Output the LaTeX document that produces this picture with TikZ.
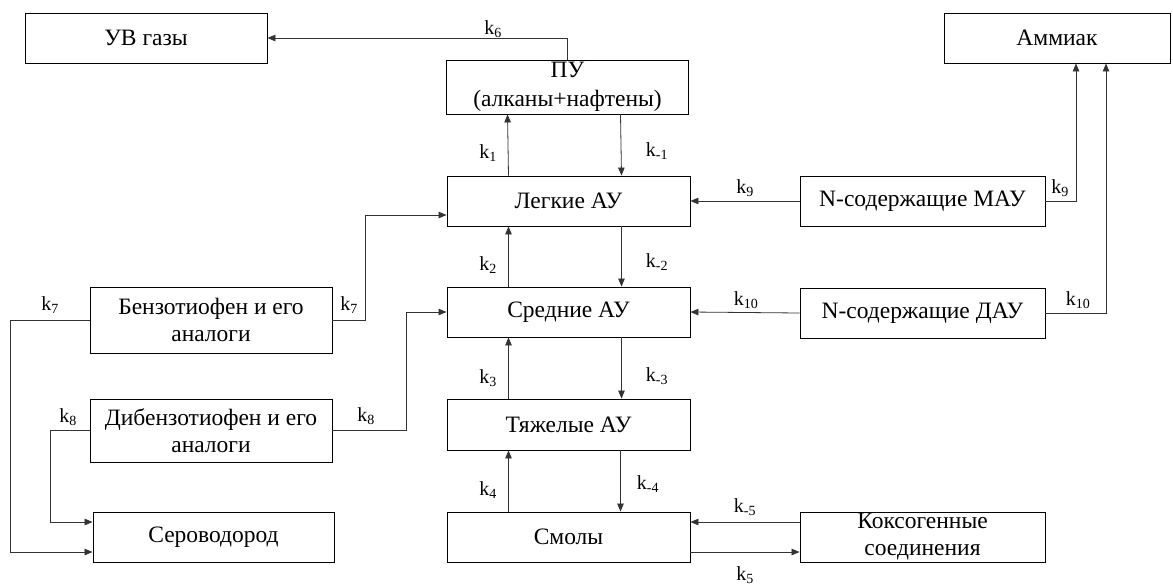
\documentclass[tikz,border=0pt]{standalone}
\usepackage{fontspec}
\setmainfont{Liberation Serif}
\newfontfamily\tnr{Liberation Serif}
\usetikzlibrary{arrows.meta}
\begin{document}
\begin{tikzpicture}[x=1pt,y=-1pt,
  box/.style={draw=black,line width=0.9pt,inner sep=0pt,align=center,
    font=\tnr\fontsize{23.5}{27}\selectfont},
  arr/.style={draw=black!80,line width=0.8pt,-{Triangle[length=8pt,width=6.5pt]}},
  lbl/.style={inner sep=0pt,font=\tnr\fontsize{20}{22}\selectfont}]
\useasboundingbox (0,0) rectangle (1173,587);
% boxes
\node[box,minimum width=242pt,minimum height=50pt] (uv) at (146,38) {УВ газы};
\node[box,minimum width=242pt,minimum height=54pt,font=\tnr\fontsize{23.5}{29}\selectfont] (pu) at (567.5,87) {ПУ\\(алканы+нафтены)};
\node[box,minimum width=226pt,minimum height=50pt] (am) at (1057,38) {Аммиак};
\node[box,minimum width=243pt,minimum height=50pt] (leg) at (568.5,201) {Легкие АУ};
\node[box,minimum width=243pt,minimum height=50pt] (sred) at (568.5,312) {Средние АУ};
\node[box,minimum width=243pt,minimum height=51pt] (tyazh) at (568.5,424.5) {Тяжелые АУ};
\node[box,minimum width=243pt,minimum height=50pt] (smol) at (568.5,537) {Смолы};
\node[box,minimum width=242pt,minimum height=66pt] (benz) at (211,320) {Бензотиофен и его\\аналоги};
\node[box,minimum width=242pt,minimum height=63pt] (dib) at (211,430.5) {Дибензотиофен и его\\аналоги};
\node[box,minimum width=241pt,minimum height=50pt] (h2s) at (213.5,537) {Сероводород};
\node[box,minimum width=245pt,minimum height=50pt] (mau) at (922.5,201) {N-содержащие МАУ};
\node[box,minimum width=245pt,minimum height=50pt] (dau) at (922.5,313) {N-содержащие ДАУ};
\node[box,minimum width=245pt,minimum height=50pt] (koks) at (922.5,537) {Коксогенные\\соединения};
% connectors
\draw[arr] (pu.north) |- (uv.east);
\draw[arr] ([xshift=-60pt]leg.north) -- ([xshift=-60pt]pu.south);
\draw[arr] ([xshift=53pt]pu.south) -- ([xshift=53pt]leg.north);
\draw[arr] ([xshift=-60pt]sred.north) -- ([xshift=-60pt]leg.south);
\draw[arr] ([xshift=53pt]leg.south) -- ([xshift=53pt]sred.north);
\draw[arr] ([xshift=-60pt]tyazh.north) -- ([xshift=-60pt]sred.south);
\draw[arr] ([xshift=53pt]sred.south) -- ([xshift=53pt]tyazh.north);
\draw[arr] ([xshift=-60pt]smol.north) -- ([xshift=-60pt]tyazh.south);
\draw[arr] ([xshift=52pt]tyazh.south) -- ([xshift=52pt]smol.north);
\draw[arr] (mau.west) -- (leg.east);
\draw[arr] (dau.west) -- (sred.east);
\draw[arr] (mau.east) -| ([xshift=19pt]am.south);
\draw[arr] (dau.east) -| ([xshift=49pt]am.south);
\draw[arr] (benz.east) -- ++(33,0) |- ([yshift=-14pt]leg.west);
\draw[arr] (dib.east) -- ++(74,0) |- (sred.west);
\draw[arr] (benz.west) -- ++(-79,0) |- ([yshift=-15pt]h2s.west);
\draw[arr] (dib.west) -- ++(-39,0) |- ([yshift=15pt]h2s.west);
\draw[arr] ([yshift=15pt]koks.west) -- ([yshift=15pt]smol.east);
\draw[arr] ([yshift=-15pt]smol.east) -- ([yshift=-15pt]koks.west);
% labels
\node[lbl] (l6) at (493,29) {k\textsubscript{6}};
\node[lbl] (l1) at (488,153) {k\textsubscript{1}};
\node[lbl] (lm1) at (657,151) {k\textsubscript{-1}};
\node[lbl] (l2) at (488,265) {k\textsubscript{2}};
\node[lbl] (lm2) at (657,262) {k\textsubscript{-2}};
\node[lbl] (l3) at (488,378) {k\textsubscript{3}};
\node[lbl] (lm3) at (657,376) {k\textsubscript{-3}};
\node[lbl] (l4) at (488,490) {k\textsubscript{4}};
\node[lbl] (lm4) at (648,484) {k\textsubscript{-4}};
\node[lbl] (lm5) at (745,507) {k\textsubscript{-5}};
\node[lbl] (l5) at (745,575) {k\textsubscript{5}};
\node[lbl] (l9a) at (745,188) {k\textsubscript{9}};
\node[lbl] (l9b) at (1060,188) {k\textsubscript{9}};
\node[lbl] (l10a) at (746,300) {k\textsubscript{10}};
\node[lbl] (l10b) at (1078,300) {k\textsubscript{10}};
\node[lbl] (l7a) at (349,305) {k\textsubscript{7}};
\node[lbl] (l7b) at (50,305) {k\textsubscript{7}};
\node[lbl] (l8a) at (366,416) {k\textsubscript{8}};
\node[lbl] (l8b) at (68,417) {k\textsubscript{8}};
\end{tikzpicture}
\end{document}
